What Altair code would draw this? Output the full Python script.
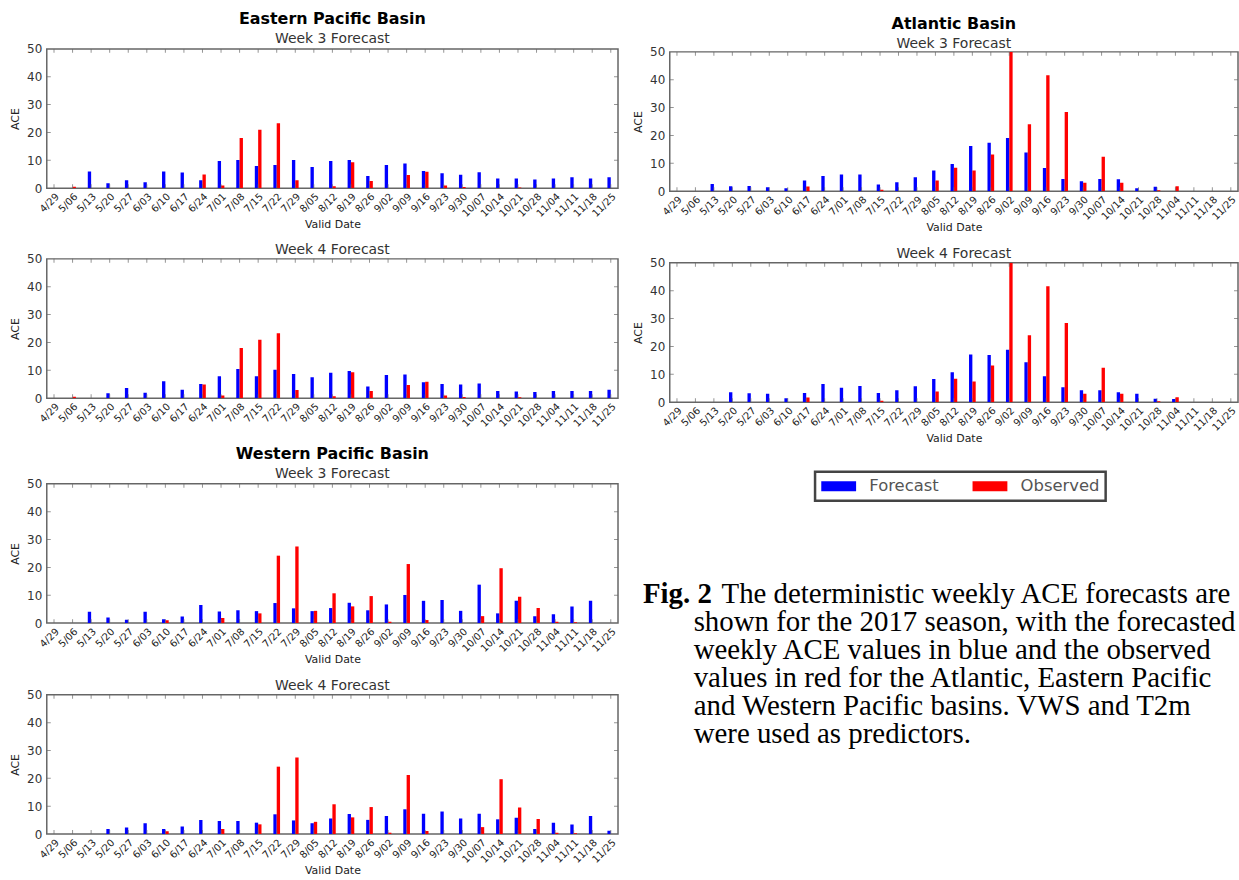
import altair as alt
import pandas as pd

dates = ['4/29', '5/06', '5/13', '5/20', '5/27', '6/03', '6/10', '6/17', '6/24', '7/01',
         '7/08', '7/15', '7/22', '7/29', '8/05', '8/12', '8/19', '8/26', '9/02', '9/09',
         '9/16', '9/23', '9/30', '10/07', '10/14', '10/21', '10/28', '11/04', '11/11',
         '11/18', '11/25']

# Eastern Pacific
ep_w3_fc = [0, 0, 6.0, 1.8, 2.9, 2.1, 6.0, 5.6, 2.9, 9.8, 10.1, 8.0, 8.3, 10.1, 7.6, 9.8,
            10.1, 4.4, 8.3, 8.9, 6.2, 5.4, 4.8, 5.7, 3.5, 3.5, 3.1, 3.5, 3.9, 3.5, 3.9]
ep_w4_fc = [0, 0, 0, 1.8, 3.7, 2.0, 6.1, 3.0, 5.1, 7.9, 10.5, 7.9, 10.2, 8.7, 7.5, 9.1,
            9.8, 4.2, 8.3, 8.5, 5.7, 5.1, 4.9, 5.3, 2.6, 2.4, 2.2, 2.6, 2.6, 2.6, 3.0]
ep_obs = [0, 0.5, 0, 0, 0, 0, 0, 0, 4.9, 1.0, 18.0, 21.0, 23.3, 2.9, 0, 0.7, 9.3, 2.6, 0,
          4.7, 5.9, 1.0, 0.4, 0, 0, 0.3, 0, 0, 0, 0, 0]

# Western Pacific
wp_w3_fc = [0, 0, 4.1, 2.0, 1.2, 4.1, 1.4, 2.4, 6.5, 4.2, 4.6, 4.3, 7.2, 5.3, 4.3, 5.4,
            7.3, 4.6, 6.7, 10.1, 8.0, 8.3, 4.4, 13.8, 3.5, 8.0, 2.5, 3.2, 6.0, 8.0, 0]
wp_w4_fc = [0, 0, 0, 1.8, 2.4, 3.9, 1.8, 2.7, 5.1, 4.7, 4.7, 4.1, 7.1, 4.9, 3.9, 5.6,
            7.2, 5.1, 6.5, 8.9, 7.3, 8.1, 5.6, 7.3, 5.3, 5.9, 1.8, 4.1, 3.4, 6.5, 1.2]
wp_obs = [0, 0, 0, 0, 0, 0, 1.0, 0, 0, 1.8, 0, 3.5, 24.2, 27.5, 4.4, 10.7, 6.0, 9.7, 0.5,
          21.2, 1.1, 0, 0, 2.5, 19.7, 9.5, 5.4, 0.5, 0.3, 0, 0]

# Atlantic
at_w3_fc = [0, 0, 2.6, 1.8, 1.9, 1.4, 1.1, 3.8, 5.5, 6.0, 6.0, 2.4, 3.2, 5.0, 7.4, 9.8,
            16.2, 17.4, 19.1, 13.9, 8.3, 4.4, 3.6, 4.4, 4.3, 1.1, 1.6, 0, 0, 0, 0]
at_w4_fc = [0, 0, 0, 3.6, 3.2, 3.0, 1.4, 3.3, 6.5, 5.2, 5.8, 3.3, 4.3, 5.7, 8.3, 10.7,
            17.1, 16.9, 18.8, 14.3, 9.3, 5.4, 4.3, 4.3, 3.6, 3.0, 1.2, 1.1, 0, 0, 0]
at_obs = [0, 0, 0, 0, 0, 0, 0, 1.7, 0, 0, 0, 0.5, 0, 0, 3.8, 8.4, 7.4, 13.2, 50, 24.0,
          41.6, 28.4, 3.0, 12.4, 3.0, 0, 0.3, 1.8, 0, 0, 0]

series = ['Forecast', 'Observed']
series_colors = ['#0000ff', '#ff0000']
y_ticks = [0, 10, 20, 30, 40, 50]
inner_ticks = [10, 20, 30, 40]

caption_first_bold = 'Fig. 2'
caption_first_rest = 'The deterministic weekly ACE forecasts are'
caption_lines = ['shown for the 2017 season, with the forecasted',
                 'weekly ACE values in blue and the observed',
                 'values in red for the Atlantic, Eastern Pacific',
                 'and Western Pacific basins.  VWS and T2m',
                 'were used as predictors.']

H = 140
WL = 574   # left column panel width
WR = 571   # right column panel width
RECT = 'M-1,-0.625L3.375,-0.625L3.375,0.625L-1,0.625Z'

LEG = alt.Legend(title=None, orient='none', legendX=772, legendY=425,
                 direction='horizontal', symbolType=RECT, symbolSize=256,
                 symbolStrokeWidth=0, labelFontSize=16.5, labelColor='#555',
                 labelOffset=32, columnPadding=33, padding=6, strokeColor='#444',
                 labelFont='DejaVu Sans')


def long_df(fc, obs):
    rows = []
    for d, f, o in zip(dates, fc, obs):
        rows.append({'date': d, 'series': 'Forecast', 'value': f})
        rows.append({'date': d, 'series': 'Observed', 'value': o})
    return pd.DataFrame(rows)


def panel(fc, obs, title, width, xtitle):
    df = long_df(fc, obs)
    xaxis = alt.Axis(title=xtitle, labelAngle=-45, labelAlign='right', labelBaseline='top',
                     labelFontSize=10, labelColor='#222', labelOverlap=False,
                     labelPadding=3, ticks=False, domain=False, titleFontSize=11,
                     titleFontWeight='normal', titleColor='#222', titlePadding=0)
    yaxis = alt.Axis(title='ACE', values=y_ticks, ticks=False, domain=False, grid=False,
                     labelFontSize=12, labelColor='#333', labelPadding=5,
                     titleFontSize=11, titleFontWeight='normal', titleColor='#222',
                     titlePadding=6)
    xenc = alt.X('date:N', sort=dates,
                 scale=alt.Scale(paddingInner=0.64, paddingOuter=0.21), axis=xaxis)
    yenc = alt.Y('value:Q', scale=alt.Scale(domain=[0, 50], nice=False), axis=yaxis)

    bars = alt.Chart(df).mark_bar(clip=True).encode(
        x=xenc,
        xOffset=alt.XOffset('series:N', sort=series),
        y=yenc,
        color=alt.Color('series:N', sort=series,
                        scale=alt.Scale(domain=series, range=series_colors), legend=LEG),
    )
    ddf = pd.DataFrame({'date': dates})
    top = alt.Chart(ddf).mark_tick(orient='vertical', size=8, thickness=1,
                                   color='#666', clip=True).encode(x=xenc, y=alt.value(0))
    bot = alt.Chart(ddf).mark_tick(orient='vertical', size=8, thickness=1,
                                   color='#666', clip=True).encode(x=xenc, y=alt.value(H))
    ydf = pd.DataFrame({'value': inner_ticks})
    lt = alt.Chart(ydf).mark_tick(orient='horizontal', size=8, thickness=1,
                                  color='#666', clip=True).encode(y=yenc, x=alt.value(0))
    rt = alt.Chart(ydf).mark_tick(orient='horizontal', size=8, thickness=1,
                                  color='#666', clip=True).encode(y=yenc, x=alt.value(width))
    layered = alt.layer(bars, top, bot, lt, rt).properties(width=width, height=H)
    if title is not None:
        layered = layered.properties(title=title)
    return layered


def basin_title(name, sub, offset=-3):
    return alt.TitleParams(text=name, subtitle=sub, fontSize=16, fontWeight='bold',
                           color='black', subtitleFontSize=14, subtitleColor='#333',
                           subtitlePadding=5, offset=offset, font='DejaVu Sans',
                           subtitleFont='DejaVu Sans')


def week_title(sub):
    return alt.TitleParams(text=sub, fontSize=14, fontWeight='normal', color='#333',
                           offset=-4, font='DejaVu Sans')


def spacer(w, h, title=None):
    sp = alt.Chart(pd.DataFrame({'a': [0]})).mark_rect(opacity=0).encode(
        x=alt.value(0), x2=alt.value(1), y=alt.value(0), y2=alt.value(1)
    ).properties(width=w, height=h, view=alt.ViewBackground(stroke='transparent'))
    if title is not None:
        sp = sp.properties(title=title)
    return sp


ep3 = panel(ep_w3_fc, ep_obs, basin_title('Eastern Pacific Basin', 'Week 3 Forecast'), WL, 'Valid Date')
ep4 = panel(ep_w4_fc, ep_obs, week_title('Week 4 Forecast'), WL, None)
wp3 = panel(wp_w3_fc, wp_obs, basin_title('Western Pacific Basin', 'Week 3 Forecast'), WL, 'Valid Date')
wp4 = panel(wp_w4_fc, wp_obs, week_title('Week 4 Forecast'), WL, 'Valid Date')
at3 = panel(at_w3_fc, at_obs, None, WR, 'Valid Date')
at4 = panel(at_w4_fc, at_obs, week_title('Week 4 Forecast'), WR, 'Valid Date')
at_head = spacer(WR, 1, basin_title('Atlantic Basin', 'Week 3 Forecast', offset=-2))

CAPY = alt.Scale(domain=[0, 5], range=[14, 154])
CAPFONT = 'Liberation Serif'
CAPSIZE = 29
cap_bold = alt.Chart(pd.DataFrame({'row': [0], 'text': [caption_first_bold]})).mark_text(
    font=CAPFONT, fontSize=CAPSIZE, fontWeight='bold', align='left',
    baseline='middle', color='black').encode(
    x=alt.value(-27), y=alt.Y('row:Q', scale=CAPY, axis=None), text='text:N')
cap_rest = alt.Chart(pd.DataFrame({'row': [0], 'text': [caption_first_rest]})).mark_text(
    font=CAPFONT, fontSize=CAPSIZE, align='left', baseline='middle',
    color='black').encode(
    x=alt.value(52), y=alt.Y('row:Q', scale=CAPY, axis=None), text='text:N')
cap_lines = alt.Chart(pd.DataFrame({'row': list(range(1, 6)), 'text': caption_lines})).mark_text(
    font=CAPFONT, fontSize=CAPSIZE, align='left', baseline='middle',
    color='black').encode(
    x=alt.value(24), y=alt.Y('row:Q', scale=CAPY, axis=None), text='text:N')
caption = alt.layer(cap_bold, cap_rest, cap_lines).properties(
    width=WR, height=165, view=alt.ViewBackground(stroke='transparent'))

left = alt.vconcat(alt.vconcat(ep3, ep4, spacing=11),
                   alt.vconcat(wp3, wp4, spacing=12), spacing=15)
right = alt.vconcat(at_head,
                    alt.vconcat(alt.vconcat(at3, at4, spacing=12), caption, spacing=135),
                    spacing=-8)

chart = alt.hconcat(left, right, spacing=12).properties(
    padding={'left': 8, 'top': 8, 'right': 0, 'bottom': 0}
).configure(font='DejaVu Sans').configure_view(
    stroke='#666', strokeWidth=1.5
).configure_legend(strokeWidth=2.5)

chart.save('out.html', embed_options={'renderer': 'svg', 'actions': False})
